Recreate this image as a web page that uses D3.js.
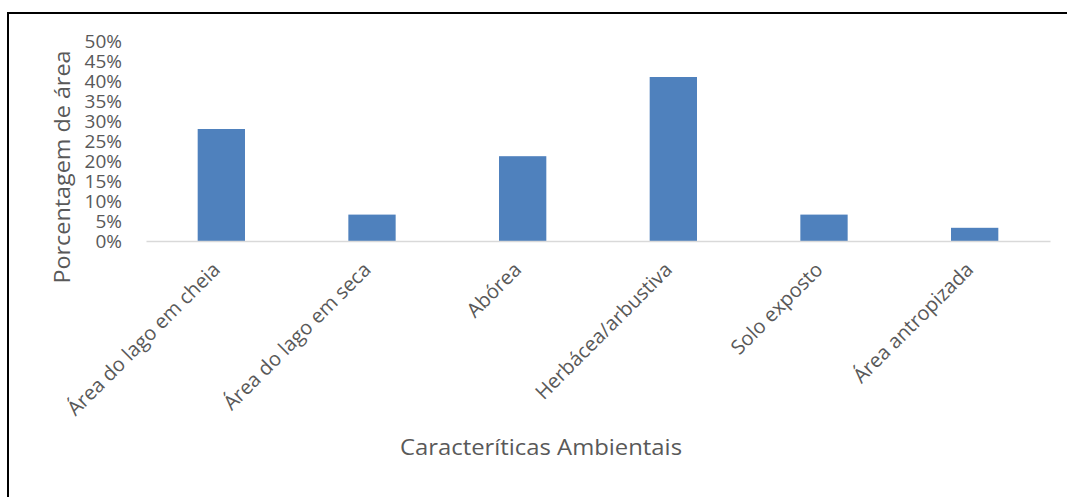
<!DOCTYPE html>
<html>
<head>
<meta charset="utf-8">
<script src="https://cdn.jsdelivr.net/npm/d3@7"></script>
<style>
  html, body { margin: 0; padding: 0; background: #fff; }
  svg { display: block; }
  text { font-family: "Open Sans", sans-serif; fill: #595959; }
</style>
</head>
<body>
<svg id="chart" width="1067" height="497"></svg>
<script>
// Land-cover classes and their share of the total area
const categories = [
  "Área do lago em cheia",
  "Área do lago em seca",
  "Abórea",
  "Herbácea/arbustiva",
  "Solo exposto",
  "Área antropizada"
];
const values = [0.28, 0.066, 0.212, 0.41, 0.066, 0.033];
const yTicks = [0, 0.05, 0.10, 0.15, 0.20, 0.25, 0.30, 0.35, 0.40, 0.45, 0.50];
const xTitle = "Caracteríticas Ambientais";
const yTitle = "Porcentagem de área";

const svg = d3.select("#chart");

// Frame around the figure
svg.append("rect")
  .attr("x", 8).attr("y", 13)
  .attr("width", 1200).attr("height", 700)
  .attr("fill", "none")
  .attr("stroke", "#000")
  .attr("stroke-width", 2);

const plot = { left: 146, right: 1050, top: 41, bottom: 241 };

const x = d3.scaleBand()
  .domain(categories)
  .range([plot.left, plot.right])
  .paddingInner(0.686)
  .paddingOuter(0.343);

const y = d3.scaleLinear()
  .domain([0, 0.5])
  .range([plot.bottom, plot.top]);

// Bars
svg.append("g")
  .selectAll("rect")
  .data(values)
  .join("rect")
  .attr("x", (d, i) => x(categories[i]))
  .attr("y", d => y(d))
  .attr("width", x.bandwidth())
  .attr("height", d => y(0) - y(d))
  .attr("fill", "#4f81bd");

// Category axis (baseline only, rotated labels)
const xAxis = svg.append("g")
  .attr("transform", `translate(0,${plot.bottom})`)
  .call(d3.axisBottom(x).tickSize(0).tickSizeOuter(0));
xAxis.select(".domain").attr("stroke", "#d9d9d9").attr("stroke-width", 1.5);
xAxis.selectAll(".tick text")
  .attr("font-size", 20)
  .attr("text-anchor", "end")
  .attr("dy", null)
  .attr("y", 0)
  .attr("transform", "translate(0,30) rotate(-45)");

// Value axis (labels only)
const yAxis = svg.append("g")
  .attr("transform", `translate(${plot.left},0)`)
  .call(d3.axisLeft(y).tickValues(yTicks).tickFormat(d3.format(".0%")).tickSize(0));
yAxis.select(".domain").remove();
yAxis.selectAll(".tick text")
  .attr("font-size", 19)
  .attr("dy", "0.34em")
  .attr("x", -24);

// Axis titles
svg.append("text")
  .attr("x", 541)
  .attr("y", 455)
  .attr("text-anchor", "middle")
  .attr("font-size", 21)
  .attr("textLength", 282)
  .attr("lengthAdjust", "spacingAndGlyphs")
  .text(xTitle);

svg.append("text")
  .attr("transform", "translate(70,167) rotate(-90)")
  .attr("text-anchor", "middle")
  .attr("font-size", 22)
  .attr("textLength", 233)
  .attr("lengthAdjust", "spacingAndGlyphs")
  .text(yTitle);
</script>
</body>
</html>
